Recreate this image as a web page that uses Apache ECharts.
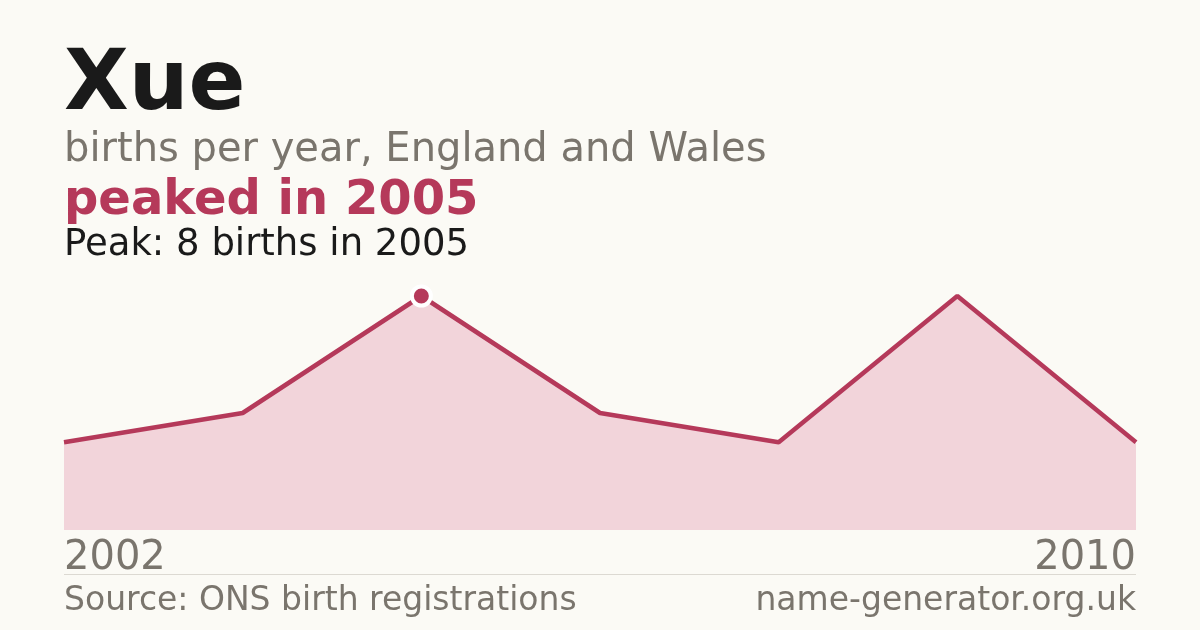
<!DOCTYPE html>
<html>

<head>
    <meta charset="utf-8">
    <style>
        html, body {
            margin: 0;
            padding: 0;
            background-color: #fbfaf5;
        }

        #main {
            width: 1200px;
            height: 630px;
        }
    </style>
</head>

<body>
    <div id="main"></div>

    <script src="https://cdn.jsdelivr.net/npm/echarts@6/dist/echarts.min.js"></script>
    <script type="text/javascript">
        // data
        var years = ['2002', '2003', '2005', '2006', '2007', '2008', '2010'];
        var births = [3, 4, 8, 4, 3, 8, 3];
        var peakIndex = 2;

        var lineColor = '#b5395a';
        var greyText = '#7a756d';
        var font = '"DejaVu Sans", Verdana, sans-serif';

        var seriesData = births.map(function (v, i) {
            if (i === peakIndex) {
                return {
                    value: v,
                    symbol: 'circle',
                    symbolSize: 19,
                    itemStyle: {
                        color: lineColor,
                        borderColor: '#ffffff',
                        borderWidth: 4
                    }
                };
            }
            return v;
        });

        var myChart = echarts.init(document.getElementById('main'));

        var option = {
            backgroundColor: '#fbfaf5',
            animation: false,
            grid: {
                left: 64,
                right: 64,
                top: 296,
                bottom: 100
            },
            xAxis: {
                type: 'category',
                data: years,
                boundaryGap: false,
                axisLine: { show: false },
                axisTick: { show: false },
                splitLine: { show: false },
                axisLabel: {
                    interval: function (index) {
                        return index === 0 || index === years.length - 1;
                    },
                    alignMinLabel: 'left',
                    alignMaxLabel: 'right',
                    color: greyText,
                    fontFamily: font,
                    fontSize: 40,
                    margin: 9
                }
            },
            yAxis: {
                type: 'value',
                min: 0,
                max: 8,
                show: false,
                splitLine: { show: false }
            },
            series: [{
                type: 'line',
                data: seriesData,
                symbol: 'none',
                clip: false,
                lineStyle: {
                    color: lineColor,
                    width: 4.5
                },
                areaStyle: {
                    color: '#f2d4da',
                    opacity: 1
                }
            }],
            graphic: [
                {
                    type: 'text', left: 64, top: 45,
                    style: { text: 'Xue', fill: '#1a1a1a', font: 'bold 84px ' + font }
                },
                {
                    type: 'text', left: 64, top: 131,
                    style: { text: 'births per year, England and Wales', fill: greyText, font: '40px ' + font }
                },
                {
                    type: 'text', left: 64, top: 178,
                    style: { text: 'peaked in 2005', fill: lineColor, font: 'bold 48px ' + font }
                },
                {
                    type: 'text', left: 64, top: 227,
                    style: { text: 'Peak: 8 births in 2005', fill: '#1a1a1a', font: '37px ' + font }
                },
                {
                    type: 'line',
                    shape: { x1: 64, y1: 574.5, x2: 1136, y2: 574.5 },
                    style: { stroke: '#dcd9d2', lineWidth: 1 }
                },
                {
                    type: 'text', left: 64, top: 585,
                    style: { text: 'Source: ONS birth registrations', fill: greyText, font: '33px ' + font }
                },
                {
                    type: 'text', right: 64, top: 585,
                    style: { text: 'name-generator.org.uk', fill: greyText, font: '33px ' + font }
                }
            ]
        };

        myChart.setOption(option);
    </script>
</body>

</html>
